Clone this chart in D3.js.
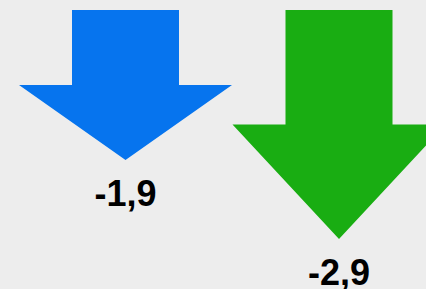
<!DOCTYPE html>
<html>
<head>
<meta charset="utf-8">
<script src="https://cdn.jsdelivr.net/npm/d3@7"></script>
<style>
  html, body { margin: 0; padding: 0; background: #ededed; }
  svg { display: block; }
</style>
</head>
<body>
<div id="chart"></div>
<script>
// ---- Data ----
const categories = ["A", "B"];
const values = [-1.9, -2.9];
const labels = ["-1,9", "-2,9"];
const colors = ["#0674ee", "#19ad12"];

const W = 426, H = 289;

const svg = d3.select("#chart").append("svg")
  .attr("width", W)
  .attr("height", H);

// ---- Scales ----
const x = d3.scalePoint()
  .domain(categories)
  .range([125.5, 339]);

// arrow length grows with the magnitude of the drop
const len = d3.scaleLinear()
  .domain([0, 1.9])
  .range([10, 160]);

const shaftHalf = 53.5, headHalf = 106.5;

function arrowPath(cat, v) {
  const cx = x(cat);
  const top = len(0);
  const tip = len(Math.abs(v));
  const mid = top + (tip - top) / 2;
  return d3.line()([
    [cx - shaftHalf, top],
    [cx + shaftHalf, top],
    [cx + shaftHalf, mid],
    [cx + headHalf, mid],
    [cx, tip],
    [cx - headHalf, mid],
    [cx - shaftHalf, mid]
  ]) + "Z";
}

const data = categories.map((c, i) => ({ cat: c, value: values[i], label: labels[i], color: colors[i] }));

// ---- Arrows ----
svg.selectAll("path.arrow")
  .data(data)
  .join("path")
  .attr("class", "arrow")
  .attr("d", d => arrowPath(d.cat, d.value))
  .attr("fill", d => d.color);

// ---- Labels ----
svg.selectAll("text.label")
  .data(data)
  .join("text")
  .attr("class", "label")
  .attr("x", d => x(d.cat))
  .attr("y", d => len(Math.abs(d.value)) + 46)
  .attr("text-anchor", "middle")
  .attr("font-family", "'Liberation Sans', Arial, sans-serif")
  .attr("font-weight", "bold")
  .attr("font-size", 36)
  .attr("fill", "#000")
  .text(d => d.label);
</script>
</body>
</html>
